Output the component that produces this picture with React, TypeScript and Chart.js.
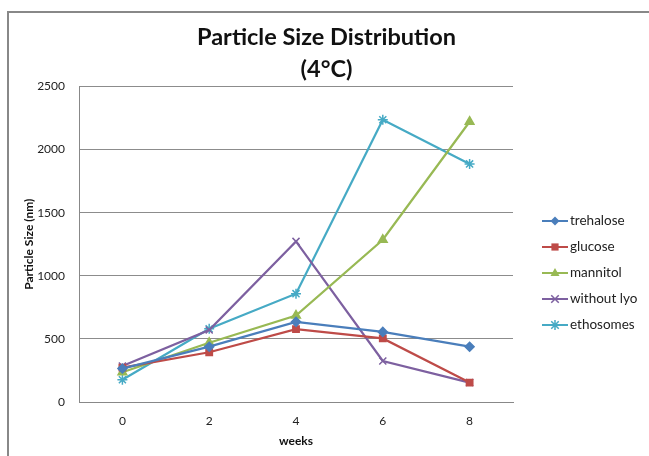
import React, { useEffect, useRef } from "react";
import { Chart, registerables } from "chart.js";

Chart.register(...registerables);

const weeks = ["0", "2", "4", "6", "8"];
const trehalose = [265, 438, 635, 555, 438];
const glucose = [272, 394, 577, 504, 154];
const mannitol = [236, 469, 685, 1285, 2220];
const withoutLyo = [285, 570, 1272, 325, 154];
const ethosomes = [176, 580, 858, 2236, 1886];
const yTicks = [0, 500, 1000, 1500, 2000, 2500];

const seriesNames = ["trehalose", "glucose", "mannitol", "without lyo", "ethosomes"];
const seriesData = [trehalose, glucose, mannitol, withoutLyo, ethosomes];
const seriesColors = ["#4A7EBB", "#BE4B48", "#98B954", "#7D60A0", "#46AAC5"];
const seriesMarkers = ["rectRot", "rect", "triangle", "crossRot", "star"];
const markerSizes = [4.5, 4.5, 5, 5, 5];

const FONT = "Lato, 'Open Sans', sans-serif";

function drawMarker(ctx: CanvasRenderingContext2D, style: string, r: number, x: number, y: number, color: string) {
  ctx.save();
  ctx.fillStyle = color;
  ctx.strokeStyle = color;
  ctx.lineWidth = 1.5;
  ctx.beginPath();
  if (style === "rectRot") {
    ctx.moveTo(x, y - r);
    ctx.lineTo(x + r, y);
    ctx.lineTo(x, y + r);
    ctx.lineTo(x - r, y);
    ctx.closePath();
    ctx.fill();
  } else if (style === "rect") {
    ctx.rect(x - r * 0.8, y - r * 0.8, r * 1.6, r * 1.6);
    ctx.fill();
  } else if (style === "triangle") {
    ctx.moveTo(x, y - r);
    ctx.lineTo(x + r * 0.9, y + r * 0.6);
    ctx.lineTo(x - r * 0.9, y + r * 0.6);
    ctx.closePath();
    ctx.fill();
  } else if (style === "crossRot") {
    const d = r * 0.75;
    ctx.moveTo(x - d, y - d);
    ctx.lineTo(x + d, y + d);
    ctx.moveTo(x + d, y - d);
    ctx.lineTo(x - d, y + d);
    ctx.stroke();
  } else if (style === "star") {
    const d = r * 0.75;
    ctx.moveTo(x - d, y - d);
    ctx.lineTo(x + d, y + d);
    ctx.moveTo(x + d, y - d);
    ctx.lineTo(x - d, y + d);
    ctx.moveTo(x, y - r);
    ctx.lineTo(x, y + r);
    ctx.stroke();
  }
  ctx.restore();
}

const legendPlugin = {
  id: "customLegend",
  afterDraw(chart: any) {
    const ctx = chart.ctx;
    const area = chart.chartArea;
    const x0 = area.right + 29;
    const yStart = 221;
    const step = 26;
    ctx.save();
    chart.data.datasets.forEach((ds: any, i: number) => {
      const y = yStart + i * step;
      ctx.strokeStyle = ds.borderColor;
      ctx.lineWidth = 2;
      ctx.beginPath();
      ctx.moveTo(x0, y);
      ctx.lineTo(x0 + 26, y);
      ctx.stroke();
      drawMarker(ctx, ds.pointStyle, ds.pointRadius, x0 + 13, y, ds.borderColor);
      ctx.fillStyle = "#222";
      ctx.font = "13.5px " + FONT;
      ctx.textBaseline = "middle";
      ctx.textAlign = "left";
      ctx.fillText(ds.label, x0 + 28, y);
    });
    ctx.restore();
  },
};

export default function App() {
  const ref = useRef<HTMLCanvasElement>(null);
  useEffect(() => {
    if (!ref.current) return;
    const chart = new Chart(ref.current, {
      type: "line",
      data: {
        labels: weeks,
        datasets: seriesNames.map((name, i) => ({
          label: name,
          data: seriesData[i],
          borderColor: seriesColors[i],
          backgroundColor: seriesColors[i],
          pointStyle: seriesMarkers[i] as any,
          pointRadius: markerSizes[i],
          pointBorderWidth: 1.5,
          borderWidth: 2.25,
          tension: 0,
          yAxisID: "y",
        })),
      },
      options: {
        responsive: false,
        animation: false,
        layout: { padding: { left: 22, right: 18, top: 0, bottom: 8 } },
        plugins: {
          legend: { display: false },
          tooltip: { enabled: false },
          title: {
            display: true,
            text: ["Particle Size Distribution", "(4°C)"],
            color: "#111",
            font: { family: FONT, size: 23.5, weight: "bold", lineHeight: 1.37 },
            padding: { top: 21, bottom: 1 },
          },
        },
        scales: {
          x: {
            offset: true,
            grid: { display: false, drawTicks: false },
            border: { display: true, color: "#888", width: 1 },
            ticks: { color: "#222", font: { family: FONT, size: 12 }, padding: 12 },
            afterFit: (scale: any) => {
              scale.height = 46;
            },
            title: {
              display: true,
              text: "weeks",
              color: "#111",
              font: { family: FONT, size: 12, weight: "bold" },
              padding: { top: 4, bottom: 0 },
            },
          },
          y: {
            min: 0,
            max: 2500,
            afterBuildTicks: (scale: any) => {
              scale.ticks = yTicks.map((v) => ({ value: v }));
            },
            afterFit: (scale: any) => {
              scale.width = 57;
            },
            grid: { color: "#8c8c8c", lineWidth: 1, drawTicks: false },
            border: { display: true, color: "#888", width: 1 },
            ticks: {
              color: "#222",
              font: { family: FONT, size: 12 },
              padding: 14,
              callback: (v: any) => String(v),
            },
            title: {
              display: true,
              text: "Particle Size (nm)",
              color: "#111",
              font: { family: FONT, size: 12, weight: "bold" },
              padding: { top: 0, bottom: 2 },
            },
          },
          yRight: {
            type: "linear",
            position: "right",
            min: 0,
            max: 2500,
            grid: { display: false, drawTicks: false },
            border: { display: false },
            ticks: { display: false },
            afterFit: (scale: any) => {
              scale.width = 118;
            },
          },
        },
      },
      plugins: [legendPlugin],
    });
    return () => chart.destroy();
  }, []);
  return (
    <div style={{ position: "fixed", left: 0, top: 0, width: 649, height: 456, overflow: "hidden", background: "#fff" }}>
      <div
        style={{
          position: "absolute",
          left: 7,
          top: 11,
          width: 700,
          height: 500,
          borderLeft: "2px solid #888",
          borderTop: "2px solid #888",
        }}
      />
      <canvas ref={ref} width={649} height={456} style={{ position: "absolute", left: 0, top: 0 }} />
    </div>
  );
}
